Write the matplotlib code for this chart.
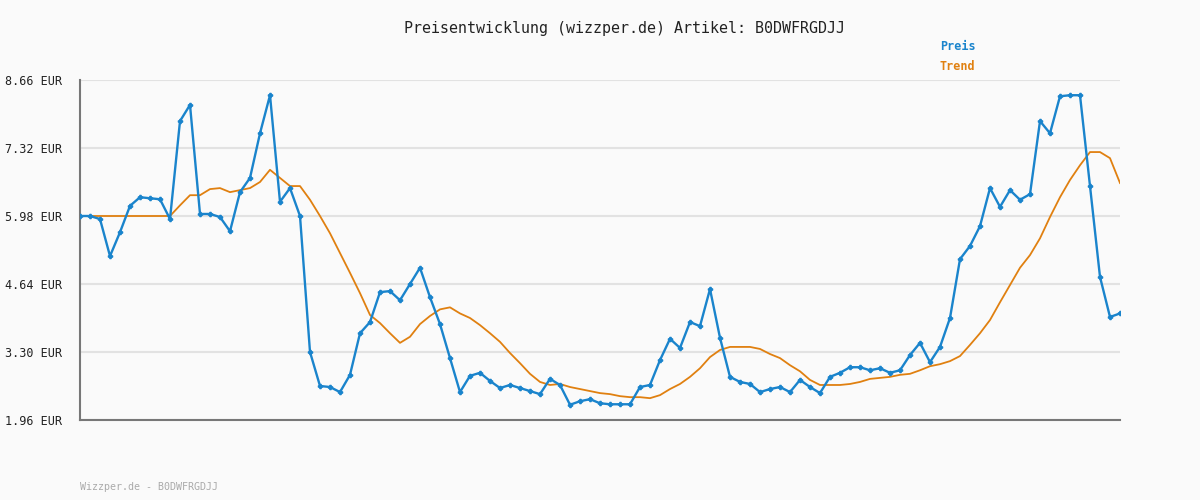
import numpy as np
import matplotlib.pyplot as plt

preis = [5.98, 5.98, 5.92, 5.19, 5.66, 6.18, 6.35, 6.33, 6.31, 5.92,
         7.85, 8.17, 6.02, 6.02, 5.96, 5.68, 6.45, 6.73, 7.61, 8.36,
         6.26, 6.53, 5.98, 3.30, 2.63, 2.61, 2.51, 2.85, 3.67, 3.89,
         4.48, 4.50, 4.32, 4.64, 4.96, 4.38, 3.85, 3.18, 2.51, 2.83,
         2.89, 2.73, 2.59, 2.65, 2.59, 2.53, 2.47, 2.77, 2.65, 2.26,
         2.33, 2.37, 2.29, 2.27, 2.27, 2.27, 2.61, 2.65, 3.14, 3.56,
         3.38, 3.89, 3.81, 4.54, 3.58, 2.81, 2.71, 2.67, 2.51, 2.57,
         2.61, 2.51, 2.75, 2.61, 2.49, 2.81, 2.89, 3.00, 3.00, 2.94,
         2.98, 2.89, 2.94, 3.24, 3.48, 3.10, 3.40, 3.97, 5.13, 5.39,
         5.78, 6.53, 6.16, 6.49, 6.30, 6.41, 7.85, 7.61, 8.34, 8.36,
         8.36, 6.57, 4.78, 3.99, 4.06]

trend = [5.98, 5.98, 5.98, 5.98, 5.98, 5.98, 5.98, 5.98, 5.98, 5.98,
         6.19, 6.39, 6.39, 6.51, 6.53, 6.45, 6.49, 6.53, 6.65, 6.89,
         6.73, 6.57, 6.57, 6.30, 5.98, 5.64, 5.25, 4.86, 4.46, 4.03,
         3.87, 3.67, 3.48, 3.60, 3.85, 4.01, 4.14, 4.18, 4.06, 3.97,
         3.83, 3.67, 3.50, 3.28, 3.08, 2.87, 2.71, 2.65, 2.67, 2.61,
         2.57, 2.53, 2.49, 2.47, 2.43, 2.41, 2.41, 2.39, 2.45, 2.57,
         2.67, 2.81, 2.98, 3.20, 3.34, 3.40, 3.40, 3.40, 3.36, 3.26,
         3.18, 3.04, 2.92, 2.75, 2.65, 2.65, 2.65, 2.67, 2.71, 2.77,
         2.79, 2.81, 2.85, 2.87, 2.94, 3.02, 3.06, 3.12, 3.22, 3.44,
         3.67, 3.93, 4.28, 4.62, 4.96, 5.21, 5.54, 5.96, 6.35, 6.69,
         6.98, 7.24, 7.24, 7.12, 6.63]

yticks = [1.96, 3.30, 4.64, 5.98, 7.32, 8.66]

mono = 'DejaVu Sans Mono'
blue = '#1a84cc'
orange = '#e08010'

fig = plt.figure(figsize=(12, 5), dpi=100, facecolor='#fafafa')
ax = fig.add_axes([80/1200, 80/500, 1040/1200, 340/500])
ax.set_facecolor('#fafafa')
x = np.arange(len(preis))
ax.plot(x, trend, color=orange, lw=1.3, zorder=2)
ax.plot(x, preis, color=blue, lw=1.7, marker='P', markersize=3, zorder=3)
ax.set_xlim(0, len(preis) - 1)
ax.set_ylim(1.96, 8.66)
ax.set_yticks(yticks)
ax.set_yticklabels([f'{v:.2f} EUR' for v in yticks], family=mono, fontsize=8.5, color='#222222')
ax.set_xticks([])
ax.grid(axis='y', color='#e2e2e2', lw=1.5)
ax.set_axisbelow(True)
for s in ['top', 'right']:
    ax.spines[s].set_visible(False)
for s in ['left', 'bottom']:
    ax.spines[s].set_color('#777777')
    ax.spines[s].set_linewidth(1.5)
ax.tick_params(axis='y', length=0, pad=13)

fig.text(624/1200, 1 - 28/500, 'Preisentwicklung (wizzper.de) Artikel: B0DWFRGDJJ',
         family=mono, fontsize=10.8, ha='center', va='center', color='#222222')
fig.text(940/1200, 1 - 47/500, 'Preis', family=mono, fontsize=8.5, weight='bold',
         color=blue, va='center')
fig.text(940/1200, 1 - 67/500, 'Trend', family=mono, fontsize=8.5, weight='bold',
         color=orange, va='center')
fig.text(80/1200, 1 - 487/500, 'Wizzper.de - B0DWFRGDJJ', family=mono, fontsize=7.2,
         color='#aaaaaa', va='center')

fig.savefig('out.png', dpi=100, facecolor=fig.get_facecolor())
